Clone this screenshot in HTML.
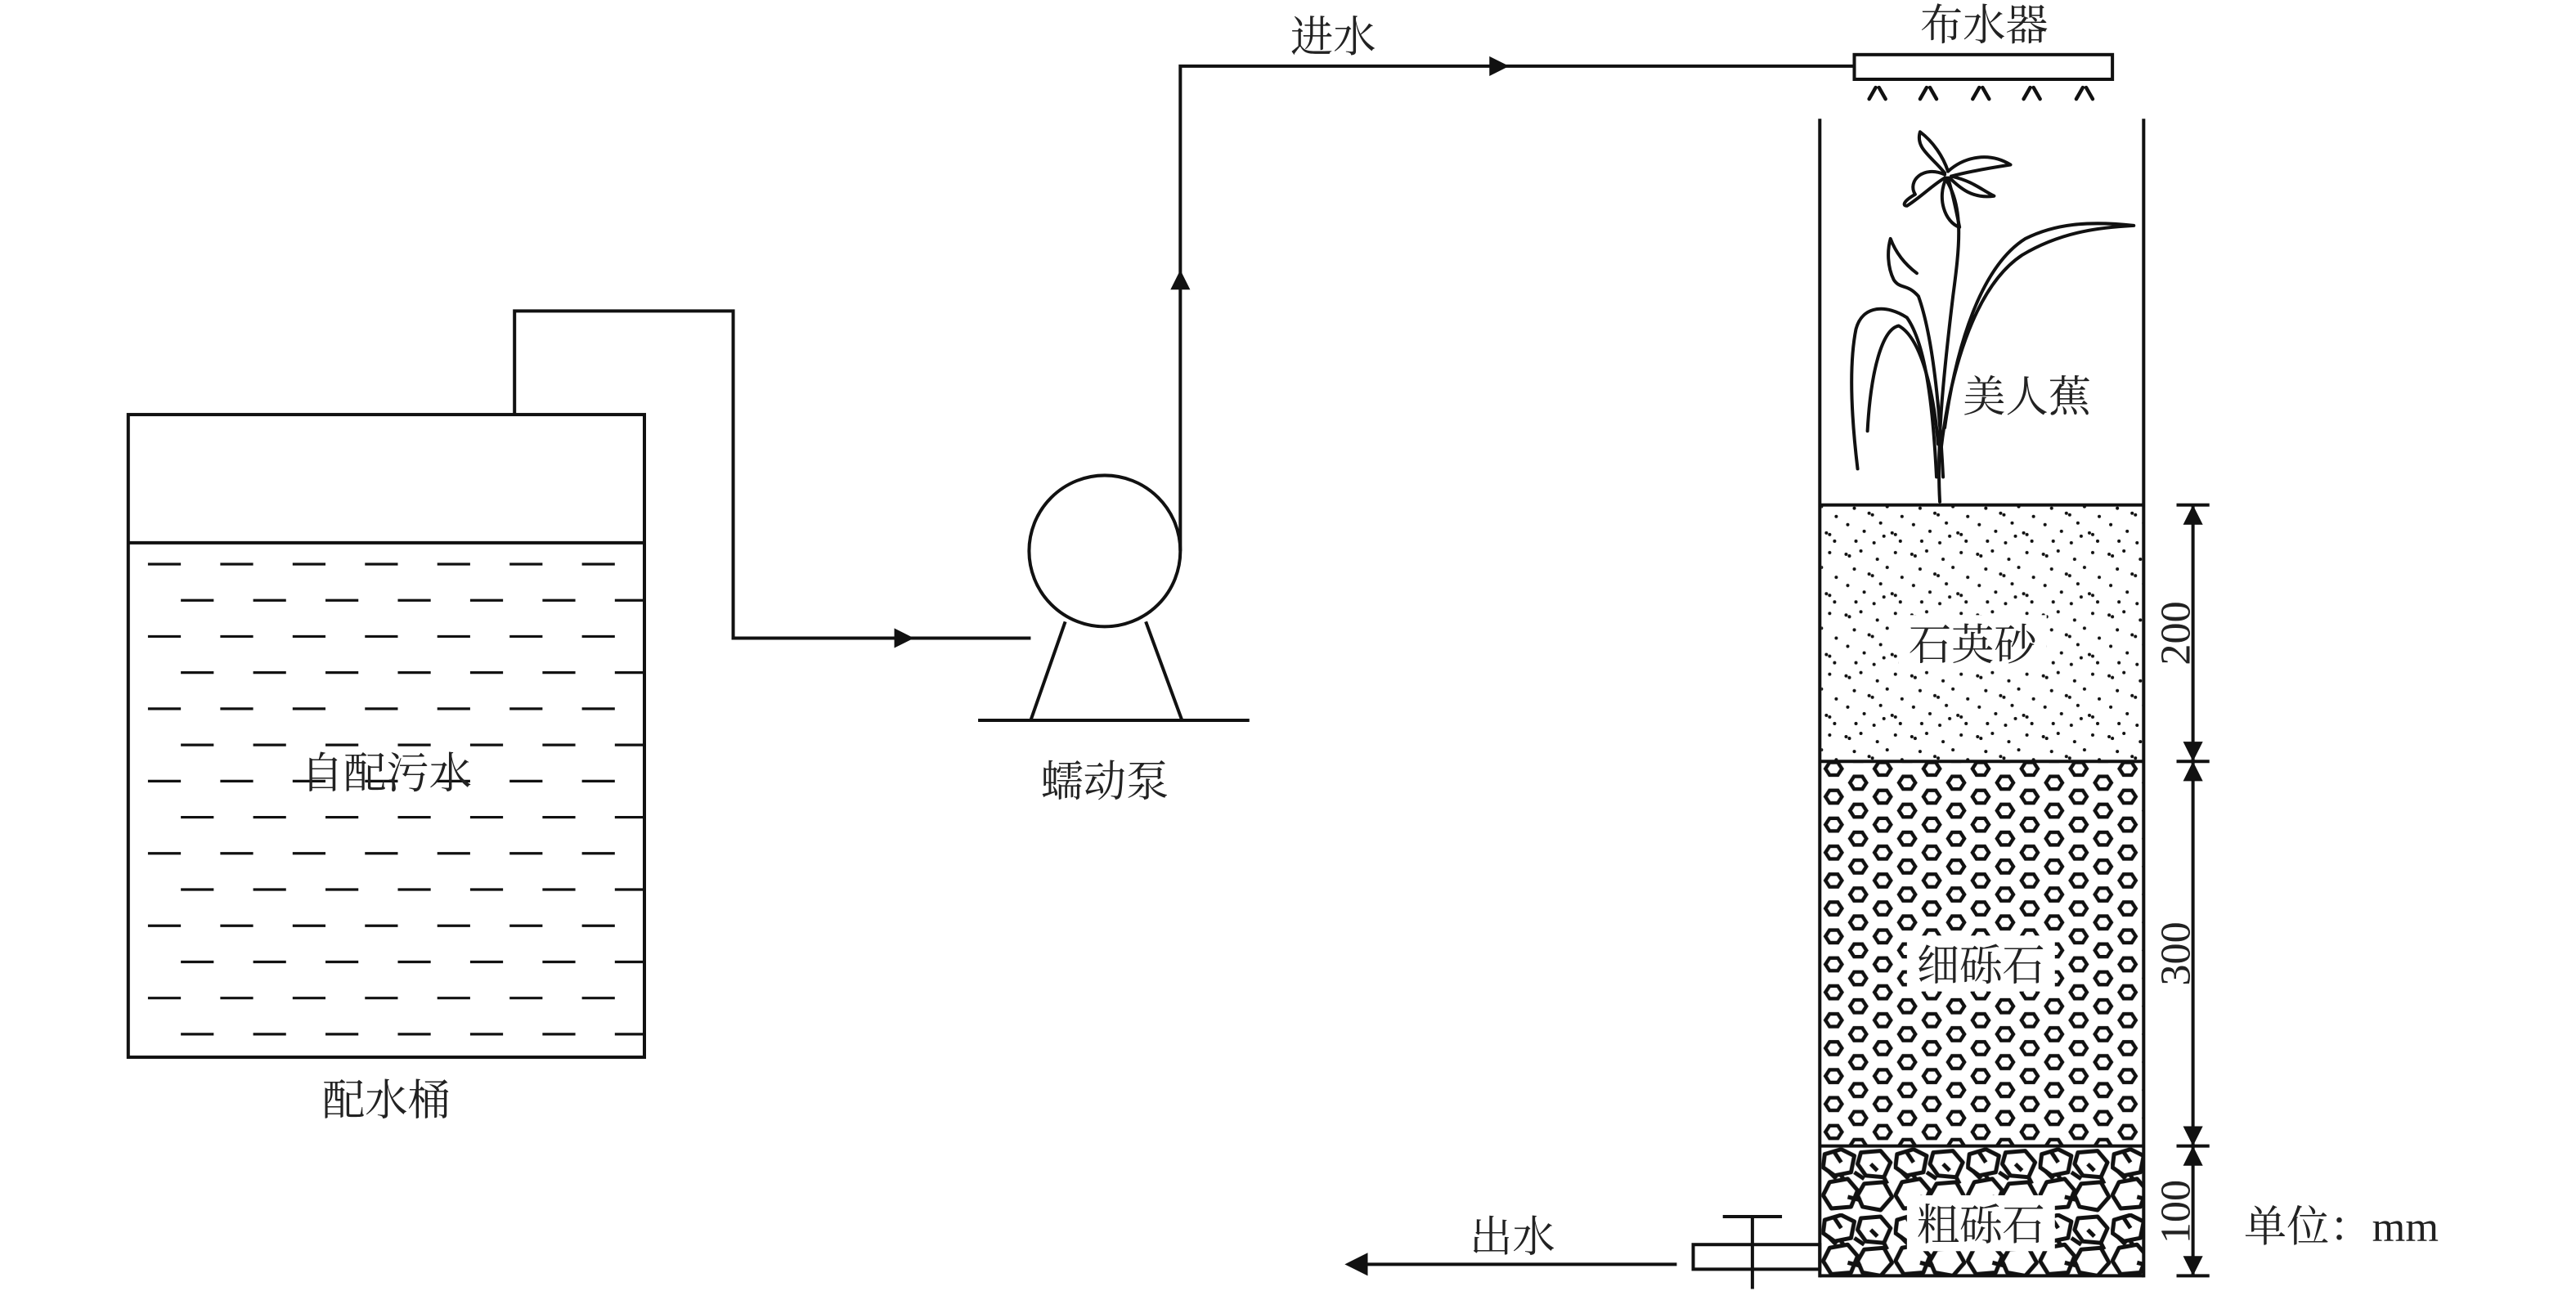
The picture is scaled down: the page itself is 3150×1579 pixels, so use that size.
<!DOCTYPE html>
<html><head><meta charset="utf-8"><style>
html,body{margin:0;padding:0;background:#fff;}
svg{display:block;}
text{font-family:"Liberation Serif","Noto Serif CJK SC",serif;fill:#222;}
</style></head><body>
<svg width="3150" height="1579" viewBox="0 0 1567 785" xmlns="http://www.w3.org/2000/svg">
<defs>
<pattern id="sand" width="40" height="37" patternUnits="userSpaceOnUse">
<g fill="#111">
<circle cx="3" cy="4" r="1"/><circle cx="5" cy="5" r="1"/><circle cx="12" cy="2" r="1"/><circle cx="22" cy="7" r="1"/><circle cx="33" cy="3" r="1"/>
<circle cx="8" cy="13" r="1"/><circle cx="17" cy="16" r="1"/><circle cx="19" cy="17" r="1"/><circle cx="28" cy="12" r="1"/><circle cx="37" cy="18" r="1"/>
<circle cx="4" cy="23" r="1"/><circle cx="14" cy="27" r="1"/><circle cx="24" cy="22" r="1"/><circle cx="31" cy="28" r="1"/><circle cx="33" cy="29" r="1"/>
<circle cx="9" cy="33" r="1"/><circle cx="20" cy="34" r="1"/><circle cx="36" cy="33" r="1"/><circle cx="26" cy="30" r="1"/>
</g></pattern>
<pattern id="hex" x="1108" y="463" width="29.8" height="17" patternUnits="userSpaceOnUse">
<g fill="none" stroke="#111" stroke-width="2.2">
<polygon points="2.45,4.5 4.95,0.65 9.95,0.65 12.45,4.5 9.95,8.35 4.95,8.35"/>
<polygon points="17.35,13 19.85,9.15 24.85,9.15 27.35,13 24.85,16.85 19.85,16.85"/>
<polygon points="2.45,21.5 4.95,17.65 9.95,17.65 12.45,21.5 9.95,25.35 4.95,25.35"/>
<polygon points="-12.45,13 -9.95,9.15 -4.95,9.15 -2.45,13 -4.95,16.85 -9.95,16.85"/>
<polygon points="17.35,-4 19.85,-7.85 24.85,-7.85 27.35,-4 24.85,-0.15 19.85,-0.15"/>
<polygon points="32.25,4.5 34.75,0.65 39.75,0.65 42.25,4.5 39.75,8.35 34.75,8.35"/>
</g></pattern>
<pattern id="coarse" x="1108" y="698" width="44" height="40" patternUnits="userSpaceOnUse">
<g fill="none" stroke="#111" stroke-width="2.5" stroke-linejoin="round">
<polygon points="2,4 12,1 20,5 18,15 8,17 1,12"/>
<polygon points="24,3 36,2 42,9 38,18 27,17 22,10"/>
<polygon points="5,21 16,19 22,26 18,36 6,37 1,29"/>
<polygon points="26,22 38,21 43,30 36,38 25,36 22,29"/>
<path d="M20,15 L26,19 M12,17 L14,20 M38,18 L40,22 M4,14 L9,19 M30,10 L34,14 M16,30 L24,32 M8,3 L12,9"/>
</g></pattern>
</defs>

<!-- tank -->
<rect x="78" y="252" width="314" height="391" fill="none" stroke="#111" stroke-width="2"/>
<line x1="78" y1="330" x2="392" y2="330" stroke="#111" stroke-width="2"/>
<g stroke="#111" stroke-width="1.6" stroke-dasharray="20 24">
<line x1="90" y1="343" x2="392" y2="343"/><line x1="110" y1="365" x2="392" y2="365"/>
<line x1="90" y1="387" x2="392" y2="387"/><line x1="110" y1="409" x2="392" y2="409"/>
<line x1="90" y1="431" x2="392" y2="431"/><line x1="110" y1="453" x2="392" y2="453"/>
<line x1="90" y1="475" x2="392" y2="475"/><line x1="110" y1="497" x2="392" y2="497"/>
<line x1="90" y1="519" x2="392" y2="519"/><line x1="110" y1="541" x2="392" y2="541"/>
<line x1="90" y1="563" x2="392" y2="563"/><line x1="110" y1="585" x2="392" y2="585"/>
<line x1="90" y1="607" x2="392" y2="607"/><line x1="110" y1="629" x2="392" y2="629"/>
</g>
<text x="235" y="479" font-size="26" text-anchor="middle">自配污水</text>
<text x="235" y="678" font-size="26" text-anchor="middle">配水桶</text>

<!-- pipes -->
<g fill="none" stroke="#111" stroke-width="2">
<polyline points="313,252 313,189 446,189 446,388 627,388"/>
<polyline points="718,335 718,40 1128,40"/>
</g>
<g fill="#111">
<polygon points="556,388 544,382 544,394"/>
<polygon points="718,164 712,176 724,176"/>
<polygon points="918,40 906,34 906,46"/>
</g>
<!-- pump -->
<circle cx="672" cy="335" r="46" fill="none" stroke="#111" stroke-width="2"/>
<g stroke="#111" stroke-width="2" fill="none">
<line x1="648" y1="378" x2="627" y2="438"/><line x1="697" y1="378" x2="719" y2="438"/>
<line x1="595" y1="438" x2="760" y2="438"/>
</g>
<text x="672" y="484" font-size="26" text-anchor="middle">蠕动泵</text>
<text x="811" y="31" font-size="26" text-anchor="middle">进水</text>

<!-- distributor -->
<rect x="1128" y="33" width="157" height="15" fill="#fff" stroke="#111" stroke-width="2"/>
<text x="1207" y="24" font-size="26" text-anchor="middle">布水器</text>
<g stroke="#111" stroke-width="2.2" stroke-linecap="round">
<path d="M1141,53 l-4,7 M1143,53 l4,7 M1172,53 l-4,7 M1174,53 l4,7 M1204,53 l-4,7 M1206,53 l4,7 M1235,53 l-4,7 M1237,53 l4,7 M1267,53 l-4,7 M1269,53 l4,7"/>
</g>

<!-- column layers -->
<rect x="1108" y="307" width="196" height="156" fill="url(#sand)"/>
<rect x="1108" y="463" width="196" height="234" fill="url(#hex)"/>
<rect x="1108" y="697" width="196" height="79" fill="url(#coarse)"/>
<g fill="none" stroke="#111" stroke-width="2">
<line x1="1107" y1="72" x2="1107" y2="777"/>
<line x1="1304" y1="72" x2="1304" y2="777"/>
<line x1="1107" y1="307" x2="1304" y2="307"/>
<line x1="1107" y1="463" x2="1304" y2="463"/>
<line x1="1107" y1="697" x2="1304" y2="697"/>
<line x1="1107" y1="776" x2="1304" y2="776"/>
</g>
<rect x="1155" y="374" width="90" height="34" fill="#fff"/>
<text x="1200" y="401" font-size="26" text-anchor="middle">石英砂</text>
<rect x="1160" y="569" width="90" height="34" fill="#fff"/>
<text x="1205" y="596" font-size="26" text-anchor="middle">细砾石</text>
<rect x="1160" y="727" width="90" height="34" fill="#fff"/>
<text x="1205" y="754" font-size="26" text-anchor="middle">粗砾石</text>

<!-- plant -->
<g fill="none" stroke="#111" stroke-width="2" stroke-linecap="round" stroke-linejoin="round">
<path d="M1183,108 C1195,125 1192,150 1188,180 C1182,230 1178,270 1180,305"/>
<path d="M1183,105 C1175,95 1165,90 1168,80 C1176,86 1182,95 1185,104"/>
<path d="M1185,104 C1195,95 1210,92 1223,100 C1210,102 1198,104 1187,107"/>
<path d="M1187,107 C1200,110 1205,115 1213,119 C1200,121 1192,114 1186,108"/>
<path d="M1183,106 C1170,100 1160,110 1165,118 C1158,122 1157,125 1160,125 C1168,120 1176,112 1183,108"/>
<path d="M1184,108 C1178,120 1183,135 1192,138 C1190,128 1188,118 1185,108"/>
<path d="M1180,280 C1185,230 1200,175 1230,155 C1255,140 1280,138 1298,137 C1270,134 1250,136 1232,145 C1205,162 1190,210 1183,260"/>
<path d="M1178,290 C1176,250 1172,210 1160,193 C1148,185 1133,185 1129,200 C1124,225 1127,260 1130,285"/>
<path d="M1179,270 C1176,235 1168,205 1155,198 C1145,200 1138,225 1136,262"/>
<path d="M1182,290 C1180,250 1176,205 1167,180 C1160,172 1156,176 1152,170 C1148,162 1148,152 1150,145 C1153,153 1158,160 1166,166"/>
</g>
<text x="1233" y="250" font-size="26" text-anchor="middle">美人蕉</text>

<!-- dimensions -->
<g stroke="#111" stroke-width="2" fill="none">
<line x1="1334" y1="307" x2="1334" y2="776"/>
<line x1="1324" y1="307" x2="1344" y2="307"/>
<line x1="1324" y1="463" x2="1344" y2="463"/>
<line x1="1324" y1="697" x2="1344" y2="697"/>
<line x1="1324" y1="776" x2="1344" y2="776"/>
</g>
<g fill="#111">
<polygon points="1334,307 1328,319 1340,319"/>
<polygon points="1334,463 1328,451 1340,451"/>
<polygon points="1334,463 1328,475 1340,475"/>
<polygon points="1334,697 1328,685 1340,685"/>
<polygon points="1334,697 1328,709 1340,709"/>
<polygon points="1334,776 1328,764 1340,764"/>
</g>
<text transform="translate(1332,385) rotate(-90)" font-size="26" text-anchor="middle">200</text>
<text transform="translate(1332,580) rotate(-90)" font-size="26" text-anchor="middle">300</text>
<text transform="translate(1332,737) rotate(-90)" font-size="26" text-anchor="middle">100</text>
<text x="1365" y="755" font-size="26">单位：mm</text>

<!-- outlet -->
<g stroke="#111" stroke-width="2" fill="none">
<rect x="1030" y="757" width="77" height="15"/>
<line x1="1066" y1="740" x2="1066" y2="784"/>
<line x1="1048" y1="740" x2="1084" y2="740"/>
<line x1="832" y1="769" x2="1020" y2="769"/>
</g>
<polygon points="818,769 832,762 832,776" fill="#111"/>
<text x="920" y="761" font-size="26" text-anchor="middle">出水</text>
</svg>
</body></html>
